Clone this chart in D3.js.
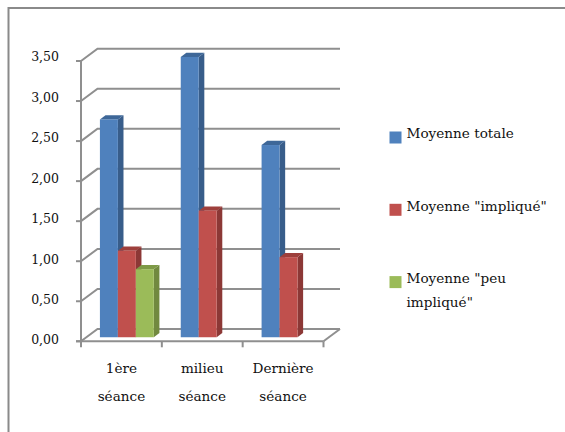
<!DOCTYPE html>
<html>
<head>
<meta charset="utf-8">
<script src="https://cdn.jsdelivr.net/npm/d3@7"></script>
<style>
  body { margin: 0; background: #fff; }
  svg { display: block; }
  text { font-family: "DejaVu Serif", serif; fill: #111; }
</style>
</head>
<body>
<svg width="565" height="432"></svg>
<script>
/*
Data
*/
var categories = [["1ère", "séance"], ["milieu", "séance"], ["Dernière", "séance"]];
var seriesNames = ["Moyenne totale", "Moyenne \"impliqué\"", "Moyenne \"peu impliqué\""];
var totale = [2.72, 3.50, 2.40];
var implique = [1.08, 1.58, 1.00];
var peuImplique = [0.85, 0, 0];
var yTicks = [0, 0.5, 1, 1.5, 2, 2.5, 3, 3.5];

var series = [totale, implique, peuImplique];
var fronts = ["#4F81BD", "#C0504D", "#9BBB59"],
    sides = ["#385D8A", "#8C3836", "#71893F"],
    tops = ["#3E6798", "#9E3F3C", "#7E9A47"];

var svg = d3.select("svg");

// chart border (right/bottom edges fall outside the picture)
svg.append("rect")
    .attr("x", 8.5).attr("y", 8)
    .attr("width", 620).attr("height", 500)
    .attr("fill", "none")
    .attr("stroke", "#8a8a8a")
    .attr("stroke-width", 2);

/*
Scales: front plane of the 3D box, plus a depth vector
*/
var x0 = 81, x1 = 323.5;
var depth = {x: 16.5, y: -12.3};
var xScale = d3.scaleBand().domain(d3.range(categories.length)).range([x0, x1]);
var bw = xScale.bandwidth();
var xSub = d3.scaleBand().domain(d3.range(series.length)).range([bw / 6, bw * 5 / 6]);
var yScale = d3.scaleLinear().domain([0, 3.5]).range([341.3, 61]);
var yLabel = d3.scaleLinear().domain([0, 3.5]).range([340, 57]);

var grid = svg.append("g")
    .attr("fill", "none")
    .attr("stroke", "#8f8f8f")
    .attr("stroke-width", 2);

// back wall gridlines, each with its diagonal on the left wall
grid.selectAll("path.gl")
    .data(yTicks)
  .enter().append("path")
    .attr("class", "gl")
    .attr("d", function(v) {
        var y = yScale(v);
        return "M" + x0 + "," + y + "L" + (x0 + depth.x) + "," + (y + depth.y) +
               "L" + (x1 + depth.x) + "," + (y + depth.y);
    });

// floor right edge and front edges
grid.append("path")
    .attr("d", "M" + x1 + "," + yScale(0) + "L" + (x1 + depth.x) + "," + (yScale(0) + depth.y));
grid.append("path")
    .attr("d", "M" + (x0 - 5) + "," + yScale(0) + "L" + x1 + "," + yScale(0));
grid.append("path")
    .attr("d", "M" + x0 + "," + yScale(0) + "L" + x0 + "," + yScale(3.5));

// y ticks
grid.selectAll("path.yt")
    .data(yTicks)
  .enter().append("path")
    .attr("class", "yt")
    .attr("d", function(v) { return "M" + (x0 - 5) + "," + yScale(v) + "H" + x0; });

// x ticks
grid.selectAll("path.xt")
    .data(d3.range(categories.length + 1))
  .enter().append("path")
    .attr("class", "xt")
    .attr("d", function(i) {
        var x = i < categories.length ? xScale(i) : x1;
        return "M" + x + "," + yScale(0) + "V" + (yScale(0) + 6);
    });

// y labels
svg.selectAll("text.yl")
    .data(yTicks)
  .enter().append("text")
    .attr("class", "yl")
    .attr("x", 59)
    .attr("y", function(v) { return yLabel(v); })
    .attr("dy", "0.35em")
    .attr("text-anchor", "end")
    .style("font-size", "12.5px")
    .text(function(v) { return d3.format(".2f")(v).replace(".", ","); });

/*
Bars: front face, side face, top face
*/
var f0 = 0.33, f1 = 0.67;
var bars = [];
categories.forEach(function(c, i) {
    series.forEach(function(s, j) {
        if (s[i] > 0) bars.push({cat: i, ser: j, value: s[i]});
    });
});

var barG = svg.selectAll("g.bar")
    .data(bars)
  .enter().append("g")
    .attr("class", "bar");

function pt(x, y) { return x + "," + y; }

barG.each(function(d) {
    var g = d3.select(this);
    var xl = xScale(d.cat) + xSub(d.ser) + depth.x * f0;
    var xr = xl + xSub.bandwidth();
    var yb = yScale(0) + depth.y * f0;
    var yt = yScale(d.value) + depth.y * f0;
    var dx = depth.x * (f1 - f0), dy = depth.y * (f1 - f0);
    g.append("polygon")
        .attr("points", [pt(xr, yb), pt(xr + dx, yb + dy), pt(xr + dx, yt + dy), pt(xr, yt)].join(" "))
        .attr("fill", sides[d.ser]);
    g.append("polygon")
        .attr("points", [pt(xl, yt), pt(xr, yt), pt(xr + dx, yt + dy), pt(xl + dx, yt + dy)].join(" "))
        .attr("fill", tops[d.ser]);
    g.append("rect")
        .attr("x", xl).attr("y", yt)
        .attr("width", xSub.bandwidth())
        .attr("height", yb - yt)
        .attr("fill", fronts[d.ser]);
});

// category labels, two lines each
var catText = svg.selectAll("text.cat")
    .data(categories)
  .enter().append("text")
    .attr("class", "cat")
    .attr("text-anchor", "middle")
    .style("font-size", "13.6px");
catText.selectAll("tspan")
    .data(function(d, i) { return d.map(function(t) { return {t: t, i: i}; }); })
  .enter().append("tspan")
    .attr("x", function(d) { return xScale(d.i) + bw / 2; })
    .attr("y", function(d, k) { return 372.5 + k * 28.5; })
    .text(function(d) { return d.t; });

/*
Legend
*/
var legendLines = [["Moyenne totale"], ["Moyenne \"impliqué\""], ["Moyenne \"peu", "impliqué\""]];
var legend = svg.selectAll("g.legend")
    .data(seriesNames)
  .enter().append("g")
    .attr("class", "legend")
    .attr("transform", function(d, i) { return "translate(389.5," + (131.5 + i * 72.3) + ")"; });
legend.append("rect")
    .attr("width", 12).attr("height", 12)
    .attr("fill", function(d, i) { return fronts[i]; });
legend.append("text")
    .style("font-size", "13.6px")
    .selectAll("tspan")
    .data(function(d, i) { return legendLines[i]; })
  .enter().append("tspan")
    .attr("x", 17)
    .attr("y", function(d, k) { return 6.8 + k * 24.5; })
    .text(function(d) { return d; });
</script>
</body>
</html>
